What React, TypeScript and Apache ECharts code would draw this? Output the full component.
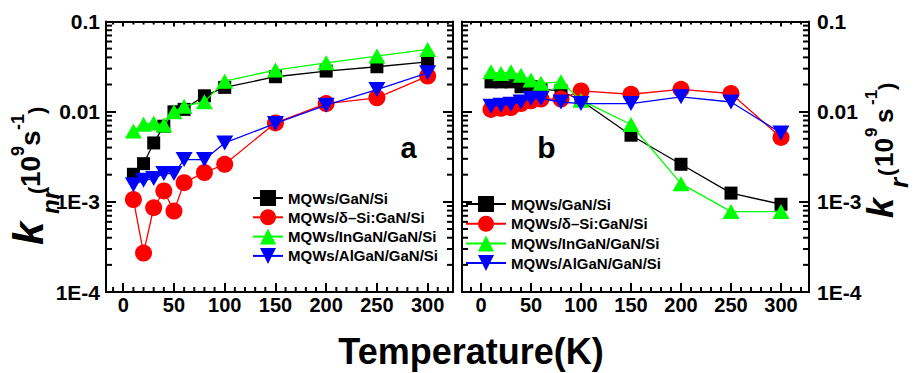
import React, { useEffect, useRef } from 'react';
import * as echarts from 'echarts';

const temps = [10, 20, 30, 40, 50, 60, 80, 100, 150, 200, 250, 300];
const seriesNames = ['MQWs/GaN/Si', 'MQWs/δ–Si:GaN/Si', 'MQWs/InGaN/GaN/Si', 'MQWs/AlGaN/GaN/Si'];

// panel a: k_nr
const knrGaN = [0.00202, 0.00265, 0.0045, 0.0069, 0.00996, 0.0106, 0.015, 0.0186, 0.0244, 0.0282, 0.0315, 0.0357];
const knrDelta = [0.00106, 0.00027, 0.00086, 0.00132, 0.00079, 0.00163, 0.00211, 0.00261, 0.0075, 0.0123, 0.01425, 0.0248];
const knrInGaN = [0.00612, 0.00726, 0.0075, 0.0071, 0.00996, 0.0115, 0.01285, 0.0218, 0.0289, 0.0348, 0.0414, 0.049];
const knrAlGaN = [0.00155, 0.00173, 0.00181, 0.00206, 0.00206, 0.00294, 0.00294, 0.0045, 0.0074, 0.0118, 0.0176, 0.027];

// panel b: k_r
const krGaN = [0.0214, 0.0214, 0.0214, 0.0189, 0.019, 0.0178, 0.017, 0.0133, 0.00548, 0.00261, 0.00125, 0.00094];
const krDelta = [0.0106, 0.0109, 0.0111, 0.0123, 0.0132, 0.0138, 0.0138, 0.017, 0.0156, 0.0177, 0.0159, 0.00517];
const krInGaN = [0.0277, 0.0265, 0.0277, 0.0254, 0.0224, 0.0206, 0.0214, 0.0134, 0.0072, 0.00159, 0.00078, 0.00078];
const krAlGaN = [0.0115, 0.0118, 0.0121, 0.0128, 0.014, 0.014, 0.0128, 0.0123, 0.0123, 0.0146, 0.0128, 0.0058];

const xMajorTicks = [0, 50, 100, 150, 200, 250, 300];
const xMinorTicks = [-10, 10, 20, 30, 40, 60, 70, 80, 90, 110, 120, 130, 140, 160, 170, 180, 190, 210, 220, 230, 240, 260, 270, 280, 290, 310, 320];
const yMinorTicks = [
  0.0002, 0.0003, 0.0004, 0.0005, 0.0006, 0.0007, 0.0008, 0.0009,
  0.002, 0.003, 0.004, 0.005, 0.006, 0.007, 0.008, 0.009,
  0.02, 0.03, 0.04, 0.05, 0.06, 0.07, 0.08, 0.09,
];

const colors = ['#000000', '#ff0000', '#00ff00', '#0000ff'];
const symbols = ['rect', 'circle', 'triangle', 'path://M0,0L10,0L5,9Z'];
const symbolSizes: any[] = [13, 17, [17, 15], [17, 15]];

const FONT = '"Liberation Sans", Arial, sans-serif';
const LOG_MIN = 0.0001;
const LOG_MAX = 0.1;

const fmtLog = (v: number) => {
  const e = Math.round(Math.log10(v));
  if (e >= -2) return Math.pow(10, e).toFixed(-e);
  return '1E' + e;
};

export default function App() {
  const ref = useRef<HTMLDivElement>(null);
  useEffect(() => {
    if (!ref.current) return;
    const chart = echarts.init(ref.current, undefined, { renderer: 'svg' });

    const panels = [
      { data: [knrGaN, knrDelta, knrInGaN, knrAlGaN], xmin: -17, xmax: 325 },
      { data: [krGaN, krDelta, krInGaN, krAlGaN], xmin: -19, xmax: 328 },
    ];

    const grids = [
      { left: 106, top: 21.5, width: 347, height: 270.5, show: false },
      { left: 462, top: 21.5, width: 347, height: 270.5, show: false },
    ];

    const frameLine = { show: true, onZero: false, lineStyle: { color: '#000', width: 2 } };
    const tickStyle = { color: '#000', width: 2 };

    const xAxes: any[] = [];
    panels.forEach((p, i) => {
      xAxes.push({
        gridIndex: i,
        type: 'value',
        position: 'bottom',
        min: p.xmin,
        max: p.xmax,
        axisLine: frameLine,
        axisTick: { show: true, inside: true, length: 9, customValues: xMajorTicks, lineStyle: tickStyle },
        axisLabel: { customValues: xMajorTicks, margin: 3, fontSize: 20, fontWeight: 'bold', color: '#000', fontFamily: FONT },
        splitLine: { show: false },
      });
    });
    panels.forEach((p, i) => {
      xAxes.push({
        gridIndex: i,
        type: 'value',
        position: 'top',
        min: p.xmin,
        max: p.xmax,
        axisLine: frameLine,
        axisTick: { show: true, inside: true, length: 5, customValues: xMajorTicks, lineStyle: tickStyle },
        axisLabel: { show: false },
        splitLine: { show: false },
      });
    });

    const yAxes: any[] = [];
    panels.forEach((p, i) => {
      ['left', 'right'].forEach((pos) => {
        const showLabel = (i === 0 && pos === 'left') || (i === 1 && pos === 'right');
        yAxes.push({
          gridIndex: i,
          type: 'log',
          logBase: 10,
          min: LOG_MIN,
          max: LOG_MAX,
          position: pos,
          axisLine: frameLine,
          axisTick: { show: true, inside: true, length: 10, lineStyle: tickStyle },
          axisLabel: {
            show: showLabel,
            formatter: fmtLog,
            margin: pos === 'left' ? 6 : 8,
            fontSize: 21,
            fontWeight: 'bold',
            color: '#000',
            fontFamily: FONT,
          },
          splitLine: { show: false },
        });
      });
    });

    const series: any[] = [];
    panels.forEach((p, i) => {
      p.data.forEach((vals, k) => {
        series.push({
          name: seriesNames[k],
          type: 'line',
          xAxisIndex: i,
          yAxisIndex: i * 2,
          data: temps.map((t, j) => [t, vals[j]]),
          symbol: symbols[k],
          symbolSize: symbolSizes[k],
          showSymbol: true,
          lineStyle: { color: colors[k], width: 1.3 },
          itemStyle: { color: colors[k] },
          z: 3 + k,
        });
      });
    });

    const legendBase = {
      data: seriesNames,
      orient: 'vertical',
      itemHeight: 20,
      selectedMode: false,
      textStyle: { fontFamily: FONT, fontWeight: 'bold', fontSize: 15, color: '#000' },
    };

    chart.setOption({
      animation: false,
      backgroundColor: '#ffffff',
      grid: grids,
      xAxis: xAxes,
      yAxis: yAxes,
      legend: [
        { ...legendBase, left: 247, top: 185, itemWidth: 30, itemGap: 3.3 },
        { ...legendBase, left: 460, top: 191, itemWidth: 40, itemGap: 3.7 },
      ],
      series,
    });

    const t = (text: string, x: number, y: number, size: number, italic: boolean, align = 'left', rot = Math.PI / 2) => ({
      type: 'text',
      x,
      y,
      rotation: rot,
      silent: true,
      style: {
        text,
        fontSize: size,
        fontWeight: 'bold',
        fontStyle: italic ? 'italic' : 'normal',
        fontFamily: FONT,
        fill: '#000',
        textAlign: align,
        textVerticalAlign: 'middle',
      },
    });

    // minor tick marks placed through the axes' own scales
    const tickEls: any[] = [];
    const seg = (x1: number, y1: number, x2: number, y2: number) => ({
      type: 'line',
      shape: { x1, y1, x2, y2 },
      style: { stroke: '#000', lineWidth: 2 },
    });
    panels.forEach((p, i) => {
      const finder = { xAxisIndex: i, yAxisIndex: i * 2 };
      const bl = chart.convertToPixel(finder, [p.xmin, LOG_MIN]) as number[];
      const tr = chart.convertToPixel(finder, [p.xmax, LOG_MAX]) as number[];
      const left = bl[0], bottom = bl[1], right = tr[0], top = tr[1];
      xMinorTicks.forEach((v) => {
        const x = (chart.convertToPixel(finder, [v, LOG_MIN]) as number[])[0];
        tickEls.push(seg(x, bottom, x, bottom - 5));
        tickEls.push(seg(x, top, x, top + 3));
      });
      yMinorTicks.forEach((v) => {
        const y = (chart.convertToPixel(finder, [p.xmin, v]) as number[])[1];
        tickEls.push(seg(left, y, left + 6, y));
        tickEls.push(seg(right, y, right - 6, y));
      });
    });

    const graphic = [
      t('k', 28, 245, 42, true),
      t('nr', 50, 214, 24, true),
      t('(', 36, 194, 22, false),
      t('10', 30, 187, 28, false),
      t('9', 18, 156, 18, false),
      t('s', 30, 146, 28, false),
      t('-1', 18, 130, 18, false),
      t(')', 36, 114, 22, false),
      t('k', 880, 218, 36, true),
      t('r', 899, 188, 26, true),
      t('(', 886, 176, 22, false),
      t('10', 884, 167, 26, false),
      t('9', 871, 137, 17, false),
      t('s', 884, 123, 26, false),
      t('-1', 871, 105, 17, false),
      t(')', 886, 90, 22, false),
      t('Temperature(K)', 471, 351, 36, false, 'center', 0),
      t('a', 408.5, 148, 29, false, 'center', 0),
      t('b', 546.5, 147.5, 30, false, 'center', 0),
      ...tickEls,
    ];

    chart.setOption({ graphic });

    return () => chart.dispose();
  }, []);

  return (
    <div
      ref={ref}
      style={{ position: 'fixed', left: 0, top: 0, width: 914, height: 373, background: '#fff' }}
    />
  );
}
